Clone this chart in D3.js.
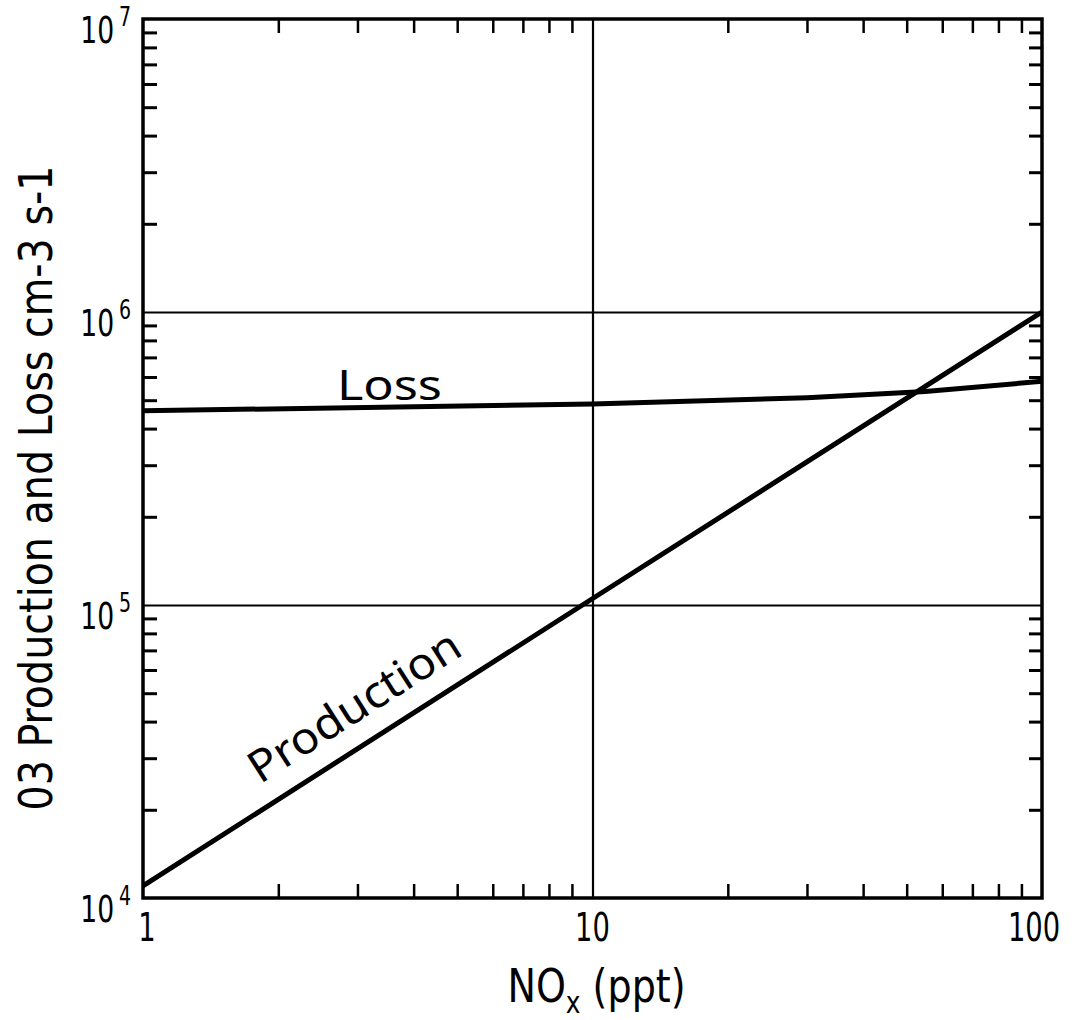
<!DOCTYPE html>
<html>
<head>
<meta charset="utf-8">
<script src="https://cdn.jsdelivr.net/npm/d3@7.9.0/dist/d3.min.js"></script>
<style>
  body { margin: 0; background: #fff; }
  svg { display: block; }
</style>
</head>
<body>
<svg id="chart"></svg>
<script>
// NOx (ppt) vs O3 production / loss rates (cm-3 s-1)
const productionNox = [1, 9.5, 100];
const productionRate = [1.1e4, 1.0e5, 1.0e6];
const lossNox = [1, 10, 30, 55, 100];
const lossRate = [4.6e5, 4.85e5, 5.1e5, 5.35e5, 5.8e5];

const xTickValues = [1, 10, 100];
const xTickLabels = ["1", "10", "100"];
const yTickValues = [1e4, 1e5, 1e6, 1e7];
const yTickExponents = ["4", "5", "6", "7"];
const xMinorTicks = [2, 3, 4, 5, 6, 7, 8, 9, 20, 30, 40, 50, 60, 70, 80, 90];
const yMinorTicks = [2e4, 3e4, 4e4, 5e4, 6e4, 7e4, 8e4, 9e4,
                     2e5, 3e5, 4e5, 5e5, 6e5, 7e5, 8e5, 9e5,
                     2e6, 3e6, 4e6, 5e6, 6e6, 7e6, 8e6, 9e6];
const xGrid = [10];
const yGrid = [1e5, 1e6];

const svgWidth = 1074;
const svgHeight = 1020;
const margin = { top: 19, right: 32, bottom: 122, left: 143 };
const width = svgWidth - margin.left - margin.right;
const height = svgHeight - margin.top - margin.bottom;

const narrow = "'DejaVu Sans Condensed', 'Liberation Sans Narrow', 'Liberation Sans', sans-serif";
const round = "'Noto Sans', 'DejaVu Sans', sans-serif";

const svg = d3.select("#chart")
    .attr("width", svgWidth)
    .attr("height", svgHeight);

svg.append("rect")
    .attr("width", svgWidth)
    .attr("height", svgHeight)
    .attr("fill", "#fff");

const xScale = d3.scaleLog().domain([1, 100]).range([0, width]);
const yScale = d3.scaleLog().domain([1e4, 1e7]).range([height, 0]);

const chartGroup = svg.append("g")
    .attr("transform", `translate(${margin.left}, ${margin.top})`);

function styleTicks(g, w) {
    g.select(".domain").remove();
    g.selectAll(".tick line").attr("stroke", "#000").attr("stroke-width", w);
    g.selectAll(".tick text").remove();
}

// minor ticks, all pointing inward
chartGroup.append("g")
    .call(d3.axisLeft(yScale).tickValues(yMinorTicks).tickSize(-14).tickFormat(""))
    .call(styleTicks, 3);
chartGroup.append("g")
    .attr("transform", `translate(${width}, 0)`)
    .call(d3.axisRight(yScale).tickValues(yMinorTicks).tickSize(-13).tickFormat(""))
    .call(styleTicks, 3);
chartGroup.append("g")
    .attr("transform", `translate(0, ${height})`)
    .call(d3.axisBottom(xScale).tickValues(xMinorTicks).tickSize(-14).tickFormat(""))
    .call(styleTicks, 2.5);
chartGroup.append("g")
    .call(d3.axisTop(xScale).tickValues(xMinorTicks).tickSize(-14).tickFormat(""))
    .call(styleTicks, 2.5);

// grid lines at the major decades
chartGroup.append("g")
    .call(d3.axisLeft(yScale).tickValues(yGrid).tickSize(-width).tickFormat(""))
    .call(styleTicks, 2.2);
chartGroup.append("g")
    .attr("transform", `translate(0, ${height})`)
    .call(d3.axisBottom(xScale).tickValues(xGrid).tickSize(-height).tickFormat(""))
    .call(styleTicks, 2.2);

// frame
chartGroup.append("rect")
    .attr("width", width)
    .attr("height", height)
    .attr("fill", "none")
    .attr("stroke", "#000")
    .attr("stroke-width", 3.5);

const line = d3.line()
    .x(d => xScale(d[0]))
    .y(d => yScale(d[1]));

chartGroup.append("path")
    .datum(lossNox.map((v, i) => [v, lossRate[i]]))
    .attr("d", line)
    .attr("fill", "none")
    .attr("stroke", "#000")
    .attr("stroke-width", 5);

chartGroup.append("path")
    .datum(productionNox.map((v, i) => [v, productionRate[i]]))
    .attr("d", line)
    .attr("fill", "none")
    .attr("stroke", "#000")
    .attr("stroke-width", 5);

// curve labels
chartGroup.append("text")
    .attr("x", xScale(2.7))
    .attr("y", yScale(5.0e5))
    .attr("textLength", 105)
    .attr("lengthAdjust", "spacingAndGlyphs")
    .style("font-family", round)
    .style("font-size", "42px")
    .text("Loss");

const angle = Math.atan2(yScale(productionRate[2]) - yScale(productionRate[0]),
                         xScale(productionNox[2]) - xScale(productionNox[0])) * 180 / Math.PI;
const px = xScale(1.82), py = yScale(2.44e4);
chartGroup.append("text")
    .attr("transform", `translate(${px}, ${py}) rotate(${angle})`)
    .attr("textLength", 243)
    .attr("lengthAdjust", "spacingAndGlyphs")
    .style("font-family", round)
    .style("font-size", "44px")
    .text("Production");

// x tick labels
const xLabelShift = [4, 0, -8];
chartGroup.selectAll("text.xlab")
    .data(xTickValues)
    .enter()
    .append("text")
    .attr("class", "xlab")
    .attr("transform", (d, i) => `translate(${xScale(d) + xLabelShift[i]}, ${height + 43}) scale(0.78, 1)`)
    .attr("text-anchor", "middle")
    .style("font-family", narrow)
    .style("font-size", "39px")
    .text((d, i) => xTickLabels[i]);

// y tick labels 10^n, exponent as a raised tspan
yTickValues.forEach((v, i) => {
    const lab = chartGroup.append("text")
        .attr("transform", `translate(-12, ${yScale(v) + 24}) scale(0.78, 1)`)
        .attr("text-anchor", "end")
        .style("font-family", narrow)
        .style("font-size", "38px");
    lab.append("tspan").text("10");
    lab.append("tspan")
        .attr("dx", 6)
        .attr("dy", -17)
        .style("font-size", "27px")
        .text(yTickExponents[i]);
});

// axis titles
const xTitle = svg.append("text")
    .attr("transform", `translate(${margin.left + width / 2 + 4}, ${margin.top + height + 104}) scale(0.92, 1)`)
    .attr("text-anchor", "middle")
    .style("font-family", narrow)
    .style("font-size", "46px");
xTitle.append("tspan").text("NO");
xTitle.append("tspan").attr("dy", 11).style("font-size", "30px").text("x");
xTitle.append("tspan").attr("dy", -11).text(" (ppt)");

svg.append("text")
    .attr("transform", `translate(52, 488) rotate(-90)`)
    .attr("text-anchor", "middle")
    .attr("textLength", 645)
    .attr("lengthAdjust", "spacingAndGlyphs")
    .style("font-family", narrow)
    .style("font-size", "46px")
    .text("03 Production and Loss cm-3 s-1");
</script>
</body>
</html>
